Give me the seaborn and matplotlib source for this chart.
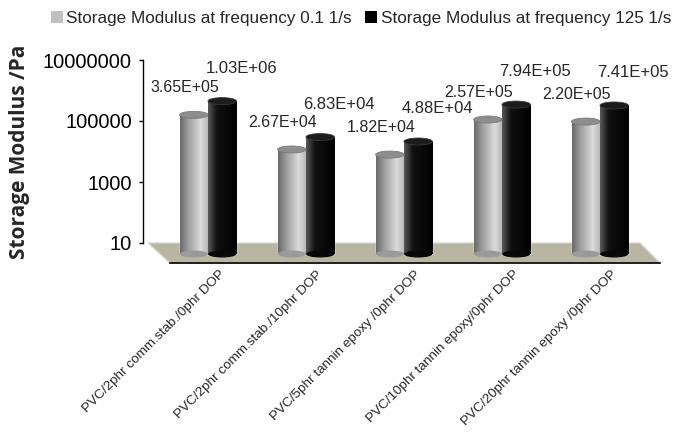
import numpy as np
import pandas as pd
import matplotlib
matplotlib.use("Agg")
import matplotlib.pyplot as plt
import matplotlib.transforms as mtransforms
from matplotlib.patches import Polygon, Ellipse, Patch, Rectangle
from matplotlib.colors import LinearSegmentedColormap
from matplotlib.ticker import NullLocator
import seaborn as sns

# ---------------- data ----------------
samples = [
    "PVC/2phr comm.stab./0phr DOP",
    "PVC/2phr comm.stab./10phr DOP",
    "PVC/5phr tannin epoxy /0phr DOP",
    "PVC/10phr tannin epoxy/0phr DOP",
    "PVC/20phr tannin epoxy /0phr DOP",
]
series = ["Storage Modulus at frequency 0.1 1/s", "Storage Modulus at frequency 125 1/s"]
modulus_low = [3.65e5, 2.67e4, 1.82e4, 2.57e5, 2.20e5]
modulus_high = [1.03e6, 6.83e4, 4.88e4, 7.94e5, 7.41e5]
y_ticks = [10, 1e3, 1e5, 1e7]
y_tick_labels = ["10", "1000", "100000", "10000000"]

df = pd.DataFrame({
    "sample": samples * 2,
    "series": [series[0]] * len(samples) + [series[1]] * len(samples),
    "value": modulus_low + modulus_high,
})

# ---------------- style ----------------
sns.set_style("white")
plt.rcParams["font.family"] = ["Liberation Sans", "DejaVu Sans"]

DPI = 100
W, H = 684, 433
fig = plt.figure(figsize=(W / DPI, H / DPI), dpi=DPI)

# back-plane axes (value axis)
ax = fig.add_axes([148 / W, 1 - 243 / H, 490 / W, 183 / H])
ax.set_yscale("log")
sns.barplot(data=df, x="sample", y="value", hue="series",
            palette=["#b0b0b0", "#000000"], width=0.58, saturation=1,
            errorbar=None, legend=False, ax=ax)
ax.set_xlim(-0.5, len(samples) - 0.5)
ax.set_ylim(10, 1e7)
ax.set_autoscale_on(False)
ax.patch.set_visible(False)

bars = sorted([p for p in ax.patches if isinstance(p, Rectangle)], key=lambda p: p.get_x())

ax.set_yticks(y_ticks)
ax.set_yticklabels(y_tick_labels)
ax.yaxis.set_minor_locator(NullLocator())
ax.tick_params(axis="y", direction="out", length=3, width=1, labelsize=14.5,
               pad=5, left=True, colors="black")
ax.tick_params(axis="x", bottom=False, labelbottom=False)
ax.set_xlabel("")
for s in ["top", "right", "bottom"]:
    ax.spines[s].set_visible(False)
ax.spines["left"].set_position(("outward", 3.6))
ax.spines["left"].set_color("black")
ax.spines["left"].set_linewidth(1)
ax.set_ylabel("Storage Modulus /Pa", fontsize=15, fontweight="bold",
              family=["Open Sans", "DejaVu Sans"])
ax.yaxis.set_label_coords(-(148 - 30) / 490, 0.5)

# floor (3D base)
floor = Polygon([(148 / W, 1 - 243 / H), (640 / W, 1 - 243 / H),
                 (660 / W, 1 - 263 / H), (170 / W, 1 - 263 / H)],
                closed=True, transform=fig.transFigure, facecolor="#b8b6a3",
                edgecolor="#d6d6d6", linewidth=1, zorder=0.2, clip_on=False)
ax.add_patch(floor)

# cylinders: offset bars toward the viewer, gradient fill and elliptical caps
off = mtransforms.ScaledTranslation(11 / DPI, -11 / DPI, fig.dpi_scale_trans)
trans = ax.transData + off
inv = fig.transFigure.inverted()
grey_cmap = LinearSegmentedColormap.from_list(
    "g", [(0, "#6a6a6a"), (0.35, "#a6a6a6"), (0.72, "#dcdcdc"), (1, "#b2b2b2")])
black_cmap = LinearSegmentedColormap.from_list(
    "k", [(0, "#5a5a5a"), (0.3, "#111111"), (1, "#000000")])

cap_h = 7  # px
for i, p in enumerate(bars):
    top = p.get_y() + p.get_height()
    p.set_y(10)
    p.set_height(top - 10)
    p.set_transform(trans)
    p.set_clip_on(False)
    p.set_zorder(2)
    (x0, y0), (x1, y1) = trans.transform([(p.get_x(), 10), (p.get_x() + p.get_width(), top)])
    (fx0, fy0), (fx1, fy1) = inv.transform([(x0, y0), (x1, y1)])
    is_low = (i % 2 == 0)
    cmap = grey_cmap if is_low else black_cmap
    im = ax.imshow(np.linspace(0, 1, 256)[None, :], cmap=cmap, aspect="auto",
                   extent=(fx0, fx1, fy0, fy1), transform=fig.transFigure,
                   interpolation="bilinear", zorder=2.1)
    im.set_clip_path(p)
    cx = (x0 + x1) / 2
    w_px = x1 - x0
    # bottom cap
    (bcx, bcy), = inv.transform([(cx, y0)])
    ax.add_patch(Ellipse((bcx, bcy), w_px / W, cap_h / H, transform=fig.transFigure,
                         facecolor="#9a9a9a" if is_low else "#080808",
                         edgecolor="none", zorder=2.2, clip_on=False))
    # top cap
    (tcx, tcy), = inv.transform([(cx, y1)])
    ax.add_patch(Ellipse((tcx, tcy), w_px / W, cap_h / H, transform=fig.transFigure,
                         facecolor="#8e8e8e" if is_low else "#1c1c1c",
                         edgecolor="#7a7a7a" if is_low else "#3a3a3a", linewidth=0.6,
                         zorder=2.3, clip_on=False))
    # value labels
    dcx = p.get_x() + p.get_width() / 2
    if is_low:
        ax.annotate(f"{top:.2E}", xy=(dcx, top), xytext=(2, 16), textcoords="offset pixels",
                    ha="center", va="center", fontsize=11.5,
                    family=["Liberation Sans Narrow", "Liberation Sans"], zorder=5)
    else:
        ax.annotate(f"{top:.2E}", xy=(dcx, top), xytext=(30, 22), textcoords="offset pixels",
                    ha="center", va="center", fontsize=12, zorder=5)

# front-plane category axis
axf = fig.add_axes([170 / W, 1 - 263 / H, 490 / W, 0.001])
axf.set_xlim(-0.5, len(samples) - 0.5)
axf.patch.set_visible(False)
for s in ["top", "left", "right"]:
    axf.spines[s].set_visible(False)
axf.spines["bottom"].set_color("black")
axf.spines["bottom"].set_linewidth(1.2)
axf.set_yticks([])
axf.set_xticks(np.arange(-0.5, len(samples), 1))
axf.set_xticklabels([])
axf.set_xticks(np.arange(len(samples)), minor=True)
axf.set_xticklabels(samples, minor=True, rotation=45, ha="right", va="center",
                    rotation_mode="anchor", fontsize=9.7)
axf.tick_params(axis="x", which="major", direction="out", length=3.6, width=1, colors="black")
axf.tick_params(axis="x", which="minor", length=0, pad=7)
shift = mtransforms.ScaledTranslation(4 / DPI, 0, fig.dpi_scale_trans)
for lbl in axf.get_xticklabels(minor=True):
    lbl.set_transform(lbl.get_transform() + shift)

# legend
handles = [Patch(facecolor="#c0c0c0", edgecolor="none"), Patch(facecolor="#000000", edgecolor="none")]
fig.legend(handles, series, loc="center", bbox_to_anchor=(361 / W, 1 - 18 / H), ncol=2,
           frameon=False, fontsize=12.3, handlelength=0.7, handleheight=0.7,
           handletextpad=0.2, columnspacing=0.8, borderaxespad=0)

fig.savefig("out.png", dpi=DPI)
